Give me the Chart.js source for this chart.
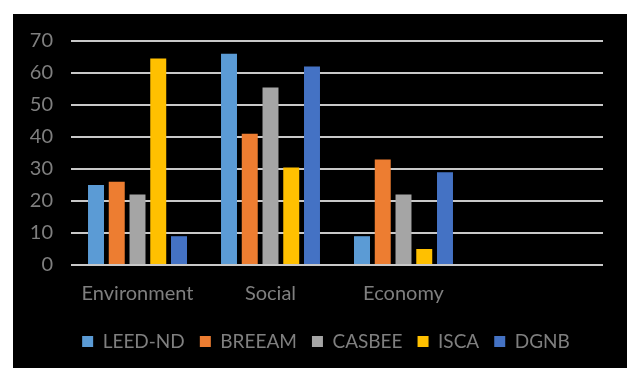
<!DOCTYPE html>
<html>
<head>
<meta charset="utf-8">
<script src="https://cdn.jsdelivr.net/npm/chart.js@4"></script>
<style>
  body { margin: 0; background: #ffffff; }
  #panel { position: absolute; left: 13px; top: 14px; width: 614px; height: 354px; background: #000000; }
</style>
</head>
<body>
<div id="panel"><canvas id="scoreChart" width="614" height="354"></canvas></div>
<script>
const categories = ['Environment', 'Social', 'Economy', ''];
const leedNd = [25, 66, 9, null];
const breeam = [26, 41, 33, null];
const casbee = [22, 55.5, 22, null];
const isca = [64.5, 30.5, 5, null];
const dgnb = [9, 62, 29, null];
const yTicks = [0, 10, 20, 30, 40, 50, 60, 70];

const textGray = '#7f7f7f';
const fontFamily = 'Lato, "Open Sans", sans-serif';

// legend sits a bit right of the canvas centre in the original
const legendShift = {
    id: 'legendShift',
    afterLayout(chart) {
        if (chart.legend) chart.legend.left += 36;
    }
};

document.addEventListener('DOMContentLoaded', () => {
    const ctx = document.getElementById('scoreChart').getContext('2d');

    const mk = (label, data, color) => ({
        label: label,
        data: data,
        backgroundColor: color,
        borderWidth: 0,
        categoryPercentage: 0.78,
        barPercentage: 0.77
    });

    new Chart(ctx, {
        type: 'bar',
        data: {
            labels: categories,
            datasets: [
                mk('LEED-ND', leedNd, '#5b9bd5'),
                mk('BREEAM', breeam, '#ed7d31'),
                mk('CASBEE', casbee, '#a5a5a5'),
                mk('ISCA', isca, '#ffc000'),
                mk('DGNB', dgnb, '#4472c4')
            ]
        },
        plugins: [legendShift],
        options: {
            responsive: false,
            animation: false,
            layout: {
                padding: { left: 0, right: 24, top: 27, bottom: 7 }
            },
            scales: {
                x: {
                    grid: { display: false, drawTicks: false },
                    border: { display: false },
                    ticks: {
                        color: textGray,
                        padding: 17,
                        font: { family: fontFamily, size: 20 }
                    },
                    afterFit: (scale) => { scale.height = 52; }
                },
                y: {
                    min: 0,
                    max: 70,
                    afterBuildTicks: (scale) => { scale.ticks = yTicks.map(v => ({ value: v })); },
                    // tick marks kept invisible, only used to push the labels left
                    grid: { color: '#c8c8c8', lineWidth: 2, drawTicks: true, tickLength: 15, tickColor: 'rgba(0,0,0,0)' },
                    border: { display: false },
                    ticks: {
                        color: textGray,
                        padding: 3,
                        font: { family: fontFamily, size: 20 }
                    },
                    afterFit: (scale) => { scale.width = 58; }
                }
            },
            plugins: {
                legend: {
                    position: 'bottom',
                    labels: {
                        color: textGray,
                        boxWidth: 11,
                        boxHeight: 11,
                        padding: 15,
                        font: { family: fontFamily, size: 19 }
                    }
                },
                tooltip: { enabled: false }
            }
        }
    });
});
</script>
</body>
</html>
